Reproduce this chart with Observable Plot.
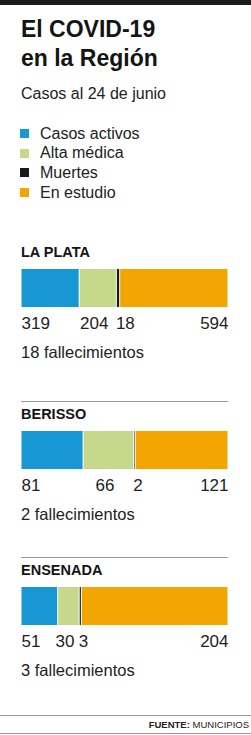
<!DOCTYPE html>
<html>
<head>
<meta charset="utf-8">
<script src="https://cdn.jsdelivr.net/npm/d3@7"></script>
<script src="https://cdn.jsdelivr.net/npm/@observablehq/plot@0.6"></script>
<style>
  html, body { margin: 0; padding: 0; background: #fff; }
  body { width: 251px; height: 735px; position: relative; overflow: hidden;
         font-family: "Liberation Sans", Arial, sans-serif; color: #222; }
  .topbar { position: absolute; left: 0; top: 0; width: 251px; height: 5px; background: #1b1b1b; }
  .title { position: absolute; left: 21px; top: 15px; font-weight: bold; font-size: 23px; line-height: 29px; color: #141414; }
  .subtitle { position: absolute; left: 21px; top: 84px; font-size: 16px; line-height: 20px; color: #222; }
  .legend { position: absolute; left: 20px; top: 124px; }
  .legend .row { display: flex; align-items: center; height: 19.6px; font-size: 16px; color: #222; }
  .legend .sw { width: 9px; height: 9px; margin-right: 11px; }
  .block { position: absolute; left: 0; width: 251px; }
  .block .div { margin: 0 23px 0 21px; height: 0; border-top: 1px solid #9a9a9a; }
  .block .name { padding-left: 21px; margin-top: 4px; font-weight: bold; font-size: 14.5px; line-height: 16px; color: #141414; }
  .block svg { display: block; margin-top: 9px; }
  .block .fall { padding-left: 21px; margin-top: 8.5px; font-size: 16.5px; line-height: 20px; color: #222; }
  .source { position: absolute; left: 0; width: 251px; top: 715px; height: 17px; border-top: 1px solid #9a9a9a; border-bottom: 1px solid #9a9a9a; }
  .source span { position: absolute; right: 2px; top: 3px; font-size: 9.5px; line-height: 12px; color: #222; }
</style>
</head>
<body>
<div class="topbar"></div>
<div class="title">El COVID-19<br>en la Región</div>
<div class="subtitle">Casos al 24 de junio</div>
<div class="legend" id="legend"></div>
<div id="blocks"></div>
<div class="source"><span><b>FUENTE:</b> MUNICIPIOS</span></div>
<script>
// ---- data ----
const categories = ["Casos activos", "Alta médica", "Muertes", "En estudio"];
const palette = ["#1798d5", "#c5d88c", "#1a1a1a", "#f3a602"];
const municipios = ["LA PLATA", "BERISSO", "ENSENADA"];
const activos = [319, 81, 51];
const altas = [204, 66, 30];
const muertes = [18, 2, 3];
const estudio = [594, 121, 204];

// ---- legend ----
const legend = document.getElementById("legend");
categories.forEach((c, i) => {
  const row = document.createElement("div");
  row.className = "row";
  const sw = document.createElement("div");
  sw.className = "sw";
  sw.style.background = palette[i];
  row.appendChild(sw);
  row.appendChild(document.createTextNode(c));
  legend.appendChild(row);
});

// ---- blocks ----
const barTops = [269, 431, 587];
const blocks = document.getElementById("blocks");
municipios.forEach((m, i) => {
  const values = [activos[i], altas[i], muertes[i], estudio[i]];
  const total = d3.sum(values);
  const ends = d3.cumsum(values);
  const rows = values.map((v, j) => ({cat: categories[j], value: v, x0: ends[j] - v, x1: ends[j]}));

  const block = document.createElement("div");
  block.className = "block";
  block.style.top = (barTops[i] - 30) + "px";
  const dv = document.createElement("div");
  dv.className = "div";
  if (i === 0) dv.style.borderTopColor = "transparent";
  block.appendChild(dv);
  const name = document.createElement("div");
  name.className = "name";
  name.textContent = m;
  block.appendChild(name);

  const common = {frameAnchor: "bottom", lineAnchor: "bottom", dy: 21, fontSize: 17, fill: "#222", text: d => String(d.value)};
  const svg = Plot.plot({
    width: 251, height: 64,
    marginLeft: 21, marginRight: 23, marginTop: 0, marginBottom: 26,
    style: {fontFamily: "'Liberation Sans', Arial, sans-serif", background: "transparent"},
    x: {domain: [0, total], axis: null},
    color: {domain: categories, range: palette},
    marks: [
      Plot.barX(rows, {x1: "x0", x2: "x1", fill: "cat", insetLeft: 0.5, insetRight: 0.5}),
      Plot.text(rows.slice(0, 1), {...common, x: "x0", textAnchor: "start"}),
      Plot.text(rows.slice(1, 2), {...common, x: d => (d.x0 + d.x1) / 2, textAnchor: "middle", dx: -4}),
      Plot.text(rows.slice(2, 3), {...common, x: "x0", textAnchor: "start", dx: -1}),
      Plot.text(rows.slice(3, 4), {...common, x: "x1", textAnchor: "end"})
    ]
  });
  block.appendChild(svg);

  const fall = document.createElement("div");
  fall.className = "fall";
  fall.textContent = muertes[i] + " fallecimientos";
  block.appendChild(fall);
  blocks.appendChild(block);
});
</script>
</body>
</html>
